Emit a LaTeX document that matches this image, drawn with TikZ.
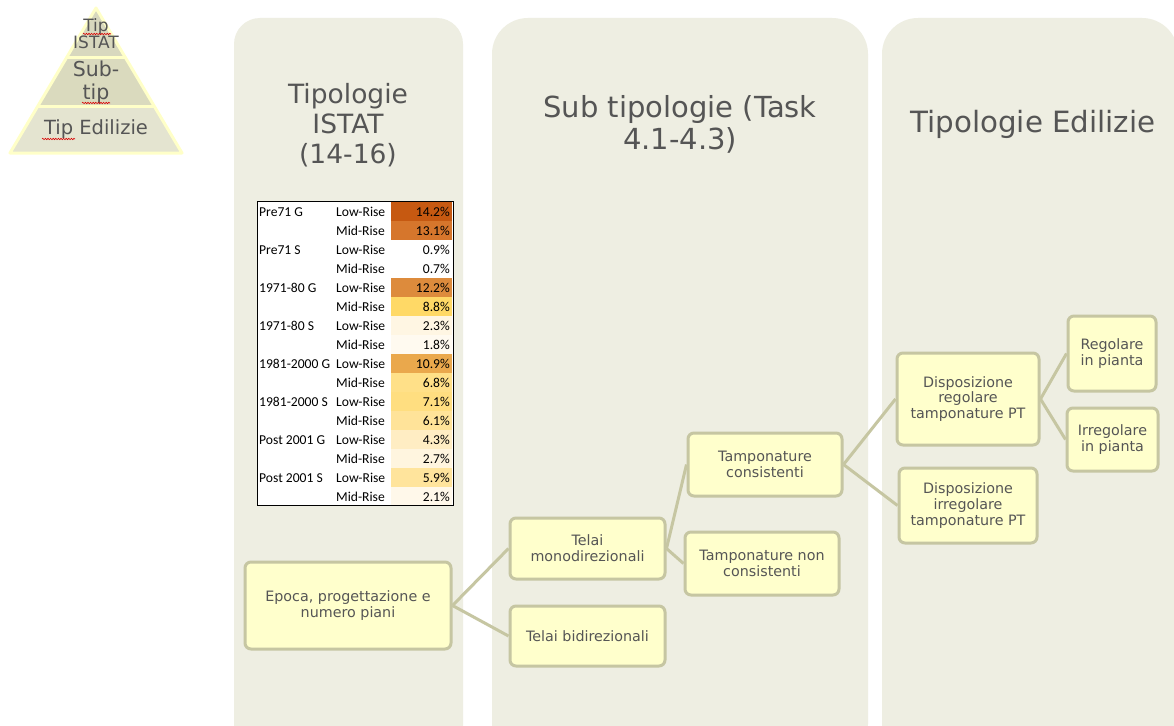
\documentclass[tikz,border=0pt]{standalone}
\usepackage{fontspec}
\setmainfont{DejaVu Sans}
\newfontfamily\tabfont{Carlito}
\usetikzlibrary{decorations.pathmorphing}
\definecolor{panelbg}{HTML}{EEEEE2}
\definecolor{boxfill}{HTML}{FFFFCC}
\definecolor{boxline}{HTML}{C6C6A2}
\definecolor{txt}{HTML}{555555}
\definecolor{pyrA}{HTML}{D8D8BE}
\definecolor{pyrB}{HTML}{DADABE}
\definecolor{pyrC}{HTML}{E4E4D0}
\definecolor{pyrEdge}{HTML}{FFFFC8}
\definecolor{cA}{HTML}{C65911}
\definecolor{cB}{HTML}{D6762C}
\definecolor{cC}{HTML}{DD8B3C}
\definecolor{cD}{HTML}{EAA84C}
\definecolor{cE}{HTML}{FFD966}
\definecolor{cF}{HTML}{FFE088}
\definecolor{cG}{HTML}{FFDE80}
\definecolor{cH}{HTML}{FFE399}
\definecolor{cI}{HTML}{FFE49C}
\definecolor{cJ}{HTML}{FFEDC3}
\definecolor{cK}{HTML}{FFF5DF}
\definecolor{cL}{HTML}{FFF6E3}
\definecolor{cM}{HTML}{FFF8EA}
\definecolor{cN}{HTML}{FFFAF0}
\tikzset{
  panel/.style={fill=panelbg, draw=none},
  box/.style={draw=boxline, fill=boxfill, line width=3pt, rounded corners=6pt,
    align=center, text=txt, font=\fontsize{14.3}{15.8}\selectfont, inner sep=2pt},
  conn/.style={draw=boxline, line width=3pt},
  title/.style={align=center, text=txt},
  tabtxt/.style={font=\tabfont\fontsize{13.6}{15}\selectfont, text=black, inner sep=0pt},
  squig/.style={draw=red!85!black, line width=0.6pt, decorate,
    decoration={snake, amplitude=0.7pt, segment length=2.6pt}},
}
\begin{document}
\begin{tikzpicture}[x=1pt,y=-1pt]
\useasboundingbox (0,0) rectangle (1174,725);
\fill[white] (0,0) rectangle (1174,725);
\begin{scope}
\clip (0,0) rectangle (1174,725);
% panels
\fill[panel, rounded corners=26pt] (234,18) rectangle (463,760);
\fill[panel, rounded corners=36pt] (492,18) rectangle (868,760);
\fill[panel, rounded corners=36pt] (882,18) rectangle (1178,760);
\end{scope}

% pyramid
\fill[pyrA] (96,8) -- (66.3,58) -- (125.7,58) -- cycle;
\fill[pyrB] (66.3,58) -- (37.9,106) -- (154.1,106) -- (125.7,58) -- cycle;
\fill[pyrC] (37.9,106) -- (10,153) -- (182,153) -- (154.1,106) -- cycle;
\draw[pyrEdge, line width=3pt] (66.3,58) -- (125.7,58) (37.9,106) -- (154.1,106);
\draw[pyrEdge, line width=3pt, line join=round] (96,8) -- (10,153) -- (182,153) -- cycle;
\node[title, font=\fontsize{17}{17}\selectfont] (ptop) at (96,34) {Tip\\ISTAT};
\node[title, font=\fontsize{20.5}{23}\selectfont] (pmid) at (96,82) {Sub-\\tip};
\node[title, font=\fontsize{19.5}{22}\selectfont] (pbot) at (96,129) {Tip Edilizie};
\draw[squig] (83,34) -- (111,34);
\draw[squig] (82,103) -- (110,103);
\draw[squig] (42,139) -- (75,139);

% titles
\node[title, font=\fontsize{26.5}{30}\selectfont] (t1) at (348,125) {Tipologie\\ISTAT\\(14-16)};
\node[title, font=\fontsize{29}{32}\selectfont] (t2) at (680,124) {Sub tipologie (Task\\4.1-4.3)};
\node[title, font=\fontsize{29.3}{32}\selectfont] (t3) at (1033,124) {Tipologie Edilizie};

% table
\fill[white] (257,201) rectangle (453,505);
\foreach \lab/\typ/\val/\col [count=\i from 0] in {
  Pre71 G/Low-Rise/14.2\%/cA,
  /Mid-Rise/13.1\%/cB,
  Pre71 S/Low-Rise/0.9\%/white,
  /Mid-Rise/0.7\%/white,
  1971-80 G/Low-Rise/12.2\%/cC,
  /Mid-Rise/8.8\%/cE,
  1971-80 S/Low-Rise/2.3\%/cL,
  /Mid-Rise/1.8\%/cN,
  1981-2000 G/Low-Rise/10.9\%/cD,
  /Mid-Rise/6.8\%/cF,
  1981-2000 S/Low-Rise/7.1\%/cG,
  /Mid-Rise/6.1\%/cH,
  Post 2001 G/Low-Rise/4.3\%/cJ,
  /Mid-Rise/2.7\%/cK,
  Post 2001 S/Low-Rise/5.9\%/cI,
  /Mid-Rise/2.1\%/cM}{
  \pgfmathsetmacro{\yt}{202+19*\i}
  \pgfmathsetmacro{\yc}{212+19*\i}
  \fill[\col] (391,\yt) rectangle (452,\yt+19);
  \node[tabtxt, anchor=west] (lab\i) at (259,\yc) {\lab};
  \node[tabtxt, anchor=west] (typ\i) at (336,\yc) {\typ};
  \node[tabtxt, anchor=east] (val\i) at (450,\yc) {\val};
}
\draw[black, line width=0.9pt] (257,201) rectangle (453,505);

% boxes
\node[box, minimum width=206pt, minimum height=87pt] (epoca) at (348,605.5) {Epoca, progettazione e\\numero piani};
\node[box, minimum width=155pt, minimum height=61pt] (mono) at (587.5,548.5) {Telai\\monodirezionali};
\node[box, minimum width=155pt, minimum height=60pt] (bi) at (587.5,636) {Telai bidirezionali};
\node[box, minimum width=154pt, minimum height=63pt] (tc) at (765,464.5) {Tamponature\\consistenti};
\node[box, minimum width=154pt, minimum height=63pt] (tnc) at (762,563.5) {Tamponature non\\consistenti};
\node[box, minimum width=142pt, minimum height=92pt] (dr) at (968,399) {Disposizione\\regolare\\tamponature PT};
\node[box, minimum width=138pt, minimum height=75pt] (di) at (968,505.5) {Disposizione\\irregolare\\tamponature PT};
\node[box, minimum width=88pt, minimum height=75pt] (rp) at (1112,353.5) {Regolare\\in pianta};
\node[box, minimum width=91pt, minimum height=63pt] (ip) at (1112.5,439.5) {Irregolare\\in pianta};

% connectors
\draw[conn] (epoca.east) -- (mono.west);
\draw[conn] (epoca.east) -- (bi.west);
\draw[conn] (mono.east) -- (tc.west);
\draw[conn] (mono.east) -- (tnc.west);
\draw[conn] (tc.east) -- (dr.west);
\draw[conn] (tc.east) -- (di.west);
\draw[conn] (dr.east) -- (rp.west);
\draw[conn] (dr.east) -- (ip.west);
\end{tikzpicture}
\end{document}
